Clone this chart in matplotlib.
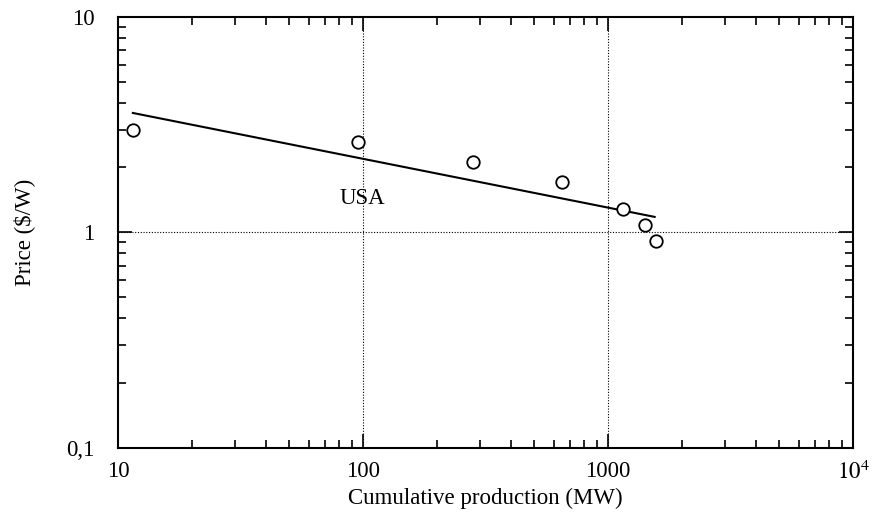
#!/usr/bin/env python
#
# Price vs cumulative production (USA), log-log experience curve

import matplotlib
matplotlib.use('Agg')
import matplotlib.pyplot as plt
from matplotlib.ticker import FixedLocator, LogLocator, NullFormatter

# data
production = [11.5, 95, 281, 649, 1151, 1416, 1570]   # MW
price = [3.0, 2.62, 2.12, 1.71, 1.29, 1.08, 0.91]     # $/W

# fitted line end points
fit_x = [11.5, 1550]
fit_y = [3.58, 1.18]

x_ticks = [10, 100, 1000, 10000]
x_labels = ['10', '100', '1000', '$10^4$']
y_ticks = [0.1, 1, 10]
y_labels = ['0,1', '1', '10']

plt.rcParams['font.family'] = ['Liberation Serif', 'DejaVu Serif']
plt.rcParams['mathtext.fontset'] = 'stix'

fig = plt.figure(figsize=(8.74, 5.24), dpi=100)
ax = fig.add_axes([0.135, 0.145, 0.841, 0.823])

ax.set_xscale('log')
ax.set_yscale('log')
ax.set_xlim(10, 10000)
ax.set_ylim(0.1, 10)

# dotted grid at the inner decades only
for gx in [100, 1000]:
    ax.axvline(gx, color='black', lw=0.8, ls=(0, (1, 1.5)), zorder=1)
ax.axhline(1, color='black', lw=0.8, ls=(0, (1, 1.5)), zorder=1)

ax.plot(fit_x, fit_y, color='black', lw=1.5, zorder=2)
ax.plot(production, price, 'o', mfc='white', mec='black', mew=1.3, ms=9, zorder=3)

ax.text(99, 1.44, 'USA', fontsize=16.5, ha='center', va='center')

ax.xaxis.set_major_locator(FixedLocator(x_ticks))
ax.set_xticklabels(x_labels)
ax.yaxis.set_major_locator(FixedLocator(y_ticks))
ax.set_yticklabels(y_labels)
ax.xaxis.set_minor_locator(LogLocator(base=10, subs=range(2, 10)))
ax.yaxis.set_minor_locator(LogLocator(base=10, subs=range(2, 10)))
ax.xaxis.set_minor_formatter(NullFormatter())
ax.yaxis.set_minor_formatter(NullFormatter())

ax.tick_params(which='both', direction='in', top=True, right=True, width=1.2)
ax.tick_params(which='major', length=10, labelsize=16.5)
ax.tick_params(which='minor', length=6)
ax.tick_params(axis='x', which='major', pad=9)
ax.tick_params(axis='y', which='major', pad=17)

for s in ax.spines.values():
    s.set_linewidth(1.5)

ax.set_xlabel('Cumulative production (MW)', fontsize=16.5, labelpad=3)
ax.set_ylabel('Price ($/W)', fontsize=16.5, labelpad=22)

fig.savefig('out.png', dpi=100)
